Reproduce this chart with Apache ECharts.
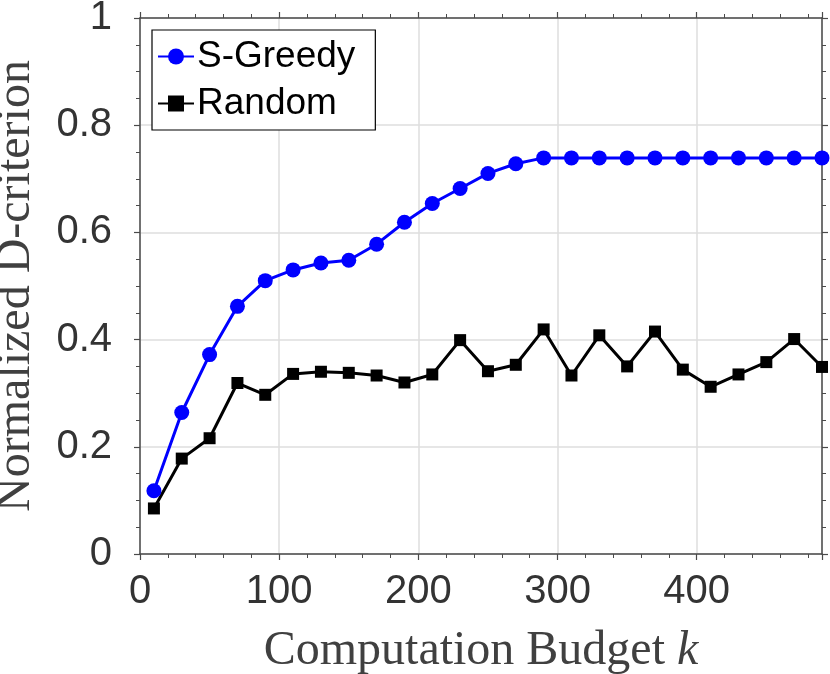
<!DOCTYPE html>
<html>
<head>
<meta charset="utf-8">
<script src="https://cdn.jsdelivr.net/npm/echarts@6/dist/echarts.min.js"></script>
<style>
  html, body { margin: 0; padding: 0; background: #fff; }
  #main { width: 830px; height: 674px; }
</style>
</head>
<body>
<div id="main"></div>
<script>
// budget k
var budget = [10, 30, 50, 70, 90, 110, 130, 150, 170, 190, 210, 230, 250,
  270, 290, 310, 330, 350, 370, 390, 410, 430, 450, 470, 490];
var greedy = [0.118, 0.264, 0.372, 0.462, 0.510, 0.530, 0.543, 0.548, 0.578,
  0.619, 0.654, 0.682, 0.710, 0.728, 0.739, 0.739, 0.739, 0.739, 0.739,
  0.739, 0.739, 0.739, 0.739, 0.739, 0.739];
var random = [0.085, 0.178, 0.216, 0.319, 0.297, 0.336, 0.340, 0.338, 0.333,
  0.320, 0.335, 0.399, 0.341, 0.353, 0.419, 0.333, 0.408, 0.350, 0.415,
  0.344, 0.312, 0.335, 0.358, 0.401, 0.349];

var axisColor = '#4a4a4a';
var textColor = '#333';

function pairs(ys) {
  return budget.map(function (x, i) { return [x, ys[i]]; });
}

function boxAxis(pos, min, max, interval, minorSplit) {
  return {
    type: 'value',
    position: pos,
    min: min,
    max: max,
    interval: interval,
    axisLine: { show: true, onZero: false, lineStyle: { color: axisColor, width: 1.5 } },
    axisTick: { show: true, inside: false, length: 6, lineStyle: { color: axisColor, width: 1.2 } },
    minorTick: { show: true, splitNumber: minorSplit, length: 4, lineStyle: { color: axisColor, width: 1 } },
    axisLabel: { show: false },
    splitLine: { show: false }
  };
}

var chart = echarts.init(document.getElementById('main'));

var xMain = boxAxis('bottom', 0, 490, 100, 5);
xMain.axisLabel = {
  show: true, margin: 18, color: textColor,
  fontFamily: 'Liberation Sans', fontSize: 40, showMaxLabel: false
};
xMain.splitLine = { show: true, lineStyle: { color: '#dedede', width: 1.5 } };
xMain.name = 'Computation Budget {i|k}';
xMain.nameLocation = 'middle';
xMain.nameGap = 73;
xMain.nameTextStyle = {
  color: '#404040', fontFamily: 'Liberation Serif', fontSize: 48,
  rich: { i: { fontFamily: 'Liberation Serif', fontStyle: 'italic', fontSize: 48, color: '#404040' } }
};

var yMain = boxAxis('left', 0, 1, 0.2, 4);
yMain.axisLabel = {
  show: true, margin: 28, color: textColor,
  fontFamily: 'Liberation Sans', fontSize: 40
};
yMain.splitLine = { show: true, lineStyle: { color: '#dedede', width: 1.5 } };
yMain.name = 'Normalized D-criterion';
yMain.nameLocation = 'middle';
yMain.nameGap = 100;
yMain.nameTextStyle = { color: '#404040', fontFamily: 'Liberation Serif', fontSize: 48 };

var option = {
  backgroundColor: '#fff',
  animation: false,
  grid: { left: 140, right: 8, top: 18, bottom: 120, containLabel: false, outerBoundsMode: 'none' },
  xAxis: [xMain, boxAxis('top', 0, 490, 100, 5)],
  yAxis: [yMain, boxAxis('right', 0, 1, 0.2, 4)],
  legend: {
    orient: 'vertical',
    left: 152,
    top: 30,
    padding: [8, 20, 8, 5],
    itemGap: 10,
    itemWidth: 36,
    itemHeight: 20,
    borderColor: '#000',
    borderWidth: 1.2,
    backgroundColor: '#fff',
    textStyle: { color: '#000', fontFamily: 'Liberation Sans', fontSize: 37, padding: [0, 0, 0, -2] },
    data: ['S-Greedy', 'Random']
  },
  series: [{
    name: 'S-Greedy',
    type: 'line',
    xAxisIndex: 0,
    yAxisIndex: 0,
    symbol: 'circle',
    symbolSize: 15,
    lineStyle: { color: '#0000ff', width: 3 },
    itemStyle: { color: '#0000ff' },
    data: pairs(greedy)
  }, {
    name: 'Random',
    type: 'line',
    xAxisIndex: 0,
    yAxisIndex: 0,
    symbol: 'rect',
    symbolSize: 12,
    lineStyle: { color: '#000', width: 3 },
    itemStyle: { color: '#000' },
    data: pairs(random)
  }]
};
chart.setOption(option);
</script>
</body>
</html>
